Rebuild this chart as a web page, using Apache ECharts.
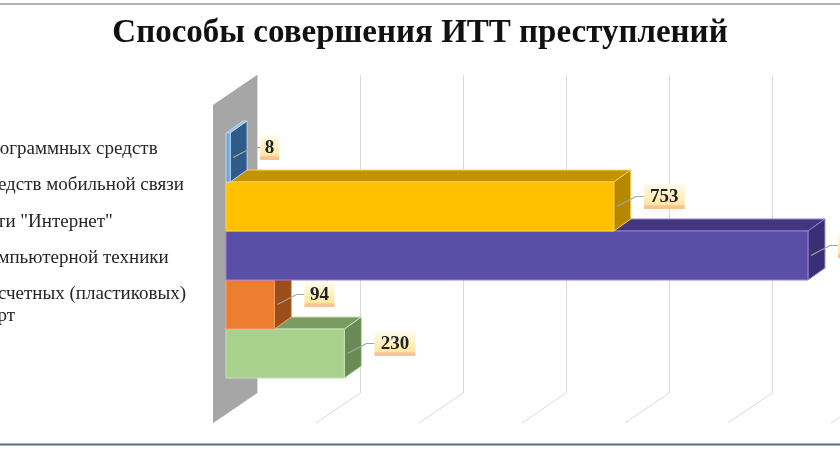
<!DOCTYPE html>
<html>
<head>
<meta charset="utf-8">
<script src="https://cdn.jsdelivr.net/npm/echarts@6/dist/echarts.min.js"></script>
<style>
html, body { margin: 0; padding: 0; background: #fff; }
#main { width: 840px; height: 450px; }
</style>
</head>
<body>
<div id="main"></div>
<script>
// данные диаграммы (сверху вниз)
var categories = ['программных средств', 'средств мобильной связи', 'сети "Интернет"', 'компьютерной техники', 'расчетных (пластиковых)\nкарт']
var values = [8, 753, 1130, 94, 230]
var ticks = [0, 200, 400, 600, 800, 1000, 1200]

// цвета граней: фронт, верх, бок, контур
var colors = [
    {front: '#6fa6d9', top: '#9dc3e6', side: '#2f5b89', line: '#bdd7ee'},
    {front: '#ffc000', top: '#c49300', side: '#b58800', line: '#ffd34d'},
    {front: '#5a4fa6', top: '#40377f', side: '#392f74', line: '#a07ad8'},
    {front: '#ed7d31', top: '#b25b20', side: '#9c4d1a', line: '#f4a46c'},
    {front: '#a9d18e', top: '#7a9c63', side: '#6a8a55', line: '#c5e0b4'}
]

// глубина столбца и пола
var dx = 17, dy = -12
var fx = -44, fy = 30

var labelFill = new echarts.graphic.LinearGradient(0, 0, 0, 1, [
    {offset: 0, color: '#fffcef'},
    {offset: 0.82, color: '#ffe7a0'},
    {offset: 0.88, color: '#f8c293'},
    {offset: 1, color: '#f8c293'}
])

var renderBar = function(params, api) {
    var i = params.dataIndex
    var v = api.value(0)
    var p0 = api.coord([0, api.value(1)])
    var p1 = api.coord([v, api.value(1)])
    var h = api.size([0, 1])[1]
    var x0 = p0[0], x1 = p1[0]
    var yT = p0[1] - h / 2, yB = p0[1] + h / 2
    var midY = p0[1]
    var c = colors[i]
    var z = (10 - i) * 10
    var lx = x1 + 30, ly = midY - 10
    var w = String(v).length * 11 + 8
    return {
        type: 'group',
        children: [
            {type: 'polygon', z2: z,
             shape: {points: [[x0, yT], [x1, yT], [x1 + dx, yT + dy], [x0 + dx, yT + dy]]},
             style: {fill: c.top, stroke: c.line, lineWidth: 1}},
            {type: 'polygon', z2: z + 1,
             shape: {points: [[x1, yT], [x1 + dx, yT + dy], [x1 + dx, yB + dy], [x1, yB]]},
             style: {fill: c.side, stroke: c.line, lineWidth: 1}},
            {type: 'rect', z2: z + 2,
             shape: {x: x0, y: yT, width: x1 - x0, height: h},
             style: {fill: c.front, stroke: c.line, lineWidth: 1}},
            // выноска и подпись
            {type: 'polyline', z2: 900,
             shape: {points: [[x1 + 3, midY], [x1 + 22, ly], [lx, ly]]},
             style: {stroke: '#a6a6a6', lineWidth: 1.2, fill: 'none'}},
            {type: 'rect', z2: 901,
             shape: {x: lx, y: ly - 12.5, width: w, height: 25},
             style: {fill: labelFill}},
            {type: 'text', z2: 902,
             style: {text: String(v), x: lx + w / 2, y: ly + 1, align: 'center', verticalAlign: 'middle',
                     font: 'bold 19px "Liberation Serif"', fill: '#222'}}
        ]
    }
}

// стенка и линии пола
var renderFloor = function(params, api) {
    var t = api.value(0)
    var b = api.coord([t, 0])
    var top = api.coord([t, 1])
    var children = [
        {type: 'line', shape: {x1: b[0], y1: b[1], x2: b[0] + fx, y2: b[1] + fy},
         style: {stroke: '#d9d9d9', lineWidth: 1}}
    ]
    if (t === 0) {
        children.push({type: 'polygon',
            shape: {points: [[top[0], top[1]], [b[0], b[1]], [b[0] + fx, b[1] + fy], [top[0] + fx, top[1] + fy]]},
            style: {fill: '#a6a6a6'}})
    }
    return {type: 'group', children: children}
}

var myChart = echarts.init(document.querySelector('#main'))

option = {
    backgroundColor: '#fff',
    animation: false,
    title: {
        text: 'Способы совершения ИТТ преступлений',
        left: 'center',
        top: 12,
        textStyle: {
            fontFamily: 'Liberation Serif',
            fontSize: 33,
            fontWeight: 'bold',
            color: '#111'
        }
    },
    grid: [
        {left: 226, top: 133, width: 618, height: 245, outerBoundsMode: 'none'},
        {left: 257, top: 75, width: 618, height: 318, outerBoundsMode: 'none'},
        {left: 200, top: 131, width: 10, height: 181.5, outerBoundsMode: 'none'}
    ],
    xAxis: [
        {gridIndex: 0, type: 'value', min: 0, max: 1200, interval: 200, show: false},
        {gridIndex: 1, type: 'value', min: 0, max: 1200, interval: 200,
         axisLine: {show: false}, axisTick: {show: false}, axisLabel: {show: false},
         splitLine: {show: true, lineStyle: {color: '#d9d9d9', width: 1}}},
        {gridIndex: 2, type: 'value', show: false}
    ],
    yAxis: [
        {gridIndex: 0, type: 'category', inverse: true, data: categories, show: false},
        {gridIndex: 1, type: 'value', min: 0, max: 1, show: false},
        {gridIndex: 2, type: 'category', inverse: true, data: categories,
         axisLine: {show: false}, axisTick: {show: false}, splitLine: {show: false},
         axisLabel: {
             interval: 0,
             hideOverlap: false,
             align: 'left',
             margin: 220,
             fontFamily: 'Liberation Serif',
             fontSize: 19,
             lineHeight: 22,
             color: '#262626',
             // двухстрочная подпись начинается от центра своей строки
             formatter: function(value) {
                 return value.indexOf('\n') >= 0 ? ' \n' + value : value
             }
         }}
    ],
    graphic: [
        {type: 'line', shape: {x1: 0, y1: 4, x2: 840, y2: 4}, style: {stroke: '#8e9bab', lineWidth: 1.5}},
        {type: 'line', shape: {x1: 0, y1: 444.5, x2: 840, y2: 444.5}, style: {stroke: '#5d6a7b', lineWidth: 2}}
    ],
    series: [
        {
            type: 'custom',
            xAxisIndex: 1,
            yAxisIndex: 1,
            z: 1,
            renderItem: renderFloor,
            data: ticks.map(function(t) { return [t] }),
            silent: true
        },
        {
            type: 'custom',
            xAxisIndex: 0,
            yAxisIndex: 0,
            z: 2,
            renderItem: renderBar,
            encode: {x: 0, y: 1},
            data: values.map(function(v, i) { return [v, i] }),
            silent: true
        }
    ]
};

myChart.setOption(option);
</script>
</body>
</html>
